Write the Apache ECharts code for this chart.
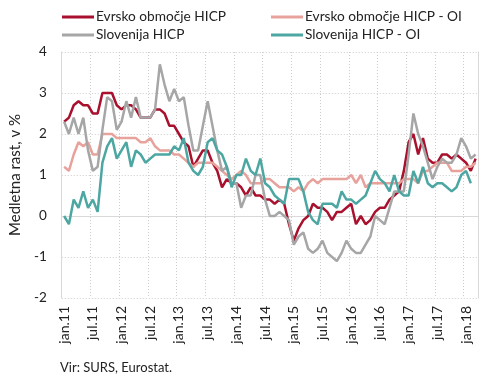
<!DOCTYPE html>
<html><head><meta charset="utf-8">
<script src="https://cdn.jsdelivr.net/npm/echarts@6/dist/echarts.min.js"></script>
<style>html,body{margin:0;padding:0;background:#fff}#c{width:490px;height:381px}</style>
</head><body><div id="c"></div>
<script>
const categories = [
 'jan.11','feb.11','mar.11','apr.11','maj.11','jun.11','jul.11','avg.11','sep.11','okt.11','nov.11','dec.11',
 'jan.12','feb.12','mar.12','apr.12','maj.12','jun.12','jul.12','avg.12','sep.12','okt.12','nov.12','dec.12',
 'jan.13','feb.13','mar.13','apr.13','maj.13','jun.13','jul.13','avg.13','sep.13','okt.13','nov.13','dec.13',
 'jan.14','feb.14','mar.14','apr.14','maj.14','jun.14','jul.14','avg.14','sep.14','okt.14','nov.14','dec.14',
 'jan.15','feb.15','mar.15','apr.15','maj.15','jun.15','jul.15','avg.15','sep.15','okt.15','nov.15','dec.15',
 'jan.16','feb.16','mar.16','apr.16','maj.16','jun.16','jul.16','avg.16','sep.16','okt.16','nov.16','dec.16',
 'jan.17','feb.17','mar.17','apr.17','maj.17','jun.17','jul.17','avg.17','sep.17','okt.17','nov.17','dec.17',
 'jan.18','feb.18','mar.18'];

const euroHicp = [
 2.3,2.4,2.7,2.8,2.7,2.7,2.5,2.5,3.0,3.0,3.0,2.7,
 2.6,2.7,2.7,2.6,2.4,2.4,2.4,2.6,2.6,2.5,2.2,2.2,
 2.0,1.8,1.7,1.2,1.4,1.6,1.6,1.3,1.1,0.7,0.9,0.8,
 0.8,0.7,0.5,0.7,0.5,0.5,0.4,0.4,0.3,0.4,0.3,-0.2,
 -0.6,-0.3,-0.1,0.0,0.3,0.2,0.2,0.1,-0.1,0.1,0.1,0.2,
 0.3,-0.2,0.0,-0.2,-0.1,0.1,0.2,0.2,0.4,0.5,0.6,1.1,
 1.8,2.0,1.5,1.9,1.4,1.3,1.3,1.5,1.5,1.4,1.5,1.4,
 1.3,1.1,1.4];

const euroOi = [
 1.2,1.1,1.5,1.8,1.7,1.8,1.5,1.5,2.0,2.0,2.0,1.9,
 1.9,1.9,1.9,1.9,1.8,1.8,1.9,1.7,1.6,1.6,1.6,1.5,
 1.5,1.4,1.3,1.2,1.3,1.3,1.3,1.3,1.2,1.1,1.0,0.9,
 1.0,1.1,1.0,0.8,0.8,0.8,0.9,0.9,0.8,0.7,0.7,0.7,
 0.6,0.7,0.6,0.8,0.9,0.8,0.9,0.9,0.9,0.9,0.9,0.9,
 1.0,0.8,1.0,0.7,0.8,0.8,0.8,0.8,0.8,0.8,0.8,0.9,
 0.9,0.9,0.8,1.1,1.1,1.2,1.3,1.3,1.3,1.1,1.1,1.1,
 1.2,1.2,1.3];

const sloHicp = [
 2.3,2.0,2.4,2.0,2.4,1.6,1.1,1.2,2.1,2.9,2.8,2.1,
 2.3,2.8,2.4,2.9,2.4,2.4,2.4,2.6,3.7,3.2,2.8,3.1,
 2.8,2.9,2.2,1.6,1.6,2.2,2.8,2.2,1.6,1.1,1.2,0.8,
 0.8,0.2,0.5,0.5,1.0,1.0,0.4,0.0,0.0,0.1,0.0,-0.1,
 -0.7,-0.5,-0.4,-0.8,-0.9,-0.8,-0.6,-0.9,-1.0,-1.1,-0.9,-0.6,
 -0.8,-0.9,-0.9,-0.7,-0.5,0.0,-0.1,-0.2,0.2,0.6,0.6,0.6,
 1.5,2.5,2.0,1.7,1.3,0.9,1.2,1.4,1.3,1.3,1.5,1.9,
 1.7,1.4,1.5];

const sloOi = [
 0.0,-0.2,0.4,0.2,0.6,0.2,0.4,0.1,1.3,1.7,1.9,1.4,
 1.6,1.8,1.2,1.6,1.5,1.3,1.4,1.5,1.5,1.5,1.5,1.7,
 1.6,1.9,1.3,1.1,1.0,1.2,1.8,1.9,1.6,1.5,1.2,0.7,
 1.0,1.0,1.4,1.1,1.0,1.4,0.8,0.7,0.5,0.4,0.3,0.9,
 0.9,0.9,0.6,0.1,-0.1,-0.2,0.3,0.3,0.3,0.2,0.6,0.4,
 0.4,0.3,0.4,0.5,0.8,1.1,0.9,0.8,0.6,1.0,0.6,0.5,
 0.5,1.1,0.8,1.2,0.8,0.7,0.8,0.8,0.7,0.6,0.7,1.0,
 1.1,0.8];

const seriesNames = ['Evrsko območje HICP','Evrsko območje HICP - OI','Slovenija HICP','Slovenija HICP - OI'];
const colors = ['#a8102d','#e8a29c','#a6a6a6','#4ca7a2'];
const yTicks = {min:-2, max:4, interval:1};

const FONT = 'Lato';
const chart = echarts.init(document.getElementById('c'), null, {renderer:'canvas'});
const dataSets = [euroHicp, euroOi, sloHicp, sloOi];

chart.setOption({
  animation:false,
  textStyle:{fontFamily:FONT},
  grid:{left:58, right:12, top:52, bottom:83},
  legend:[
    {data:[seriesNames[0],seriesNames[2]], orient:'vertical', left:57, top:5, icon:'rect',
     itemWidth:32, itemHeight:3, itemGap:4, selectedMode:false,
     textStyle:{fontFamily:FONT, fontSize:13.7, color:'#222', padding:[0,0,0,-3]}},
    {data:[seriesNames[1],seriesNames[3]], orient:'vertical', left:266, top:5, icon:'rect',
     itemWidth:32, itemHeight:3, itemGap:4, selectedMode:false,
     textStyle:{fontFamily:FONT, fontSize:13.7, color:'#222', padding:[0,0,0,-3]}}
  ],
  xAxis:{
    type:'category', data:categories, boundaryGap:true,
    axisLine:{show:true, lineStyle:{color:'#d9d9d9'}},
    axisTick:{show:false},
    axisLabel:{interval:5, rotate:90, margin:8, fontFamily:FONT, fontSize:14, color:'#222'},
    splitLine:{show:true, interval:5, lineStyle:{color:'#cccccc', type:[1,2]}}
  },
  yAxis:[{
    type:'value', min:yTicks.min, max:yTicks.max, interval:yTicks.interval,
    name:'Medletna rast, v %', nameLocation:'middle', nameGap:37, nameRotate:90,
    nameTextStyle:{fontFamily:FONT, fontSize:15, color:'#222'},
    axisLine:{show:true, lineStyle:{color:'#d9d9d9'}},
    axisTick:{show:false},
    axisLabel:{margin:15, fontFamily:FONT, fontSize:13.5, color:'#222'},
    splitLine:{show:true, lineStyle:{color:'#cccccc', type:[1,2]}}
  },{
    type:'value', position:'right', min:yTicks.min, max:yTicks.max, interval:yTicks.interval,
    axisLine:{show:true, lineStyle:{color:'#d9d9d9'}},
    axisTick:{show:false}, axisLabel:{show:false}, splitLine:{show:false}
  }],
  series: dataSets.map((d,k)=>({
    name:seriesNames[k], type:'line', data:d, showSymbol:false, symbol:'none',
    lineStyle:{width:2.5, color:colors[k]}, itemStyle:{color:colors[k]}, z:2+k
  })),
  graphic:[{type:'text', left:60, top:361, style:{text:'Vir: SURS, Eurostat.', font:'13px Lato', fill:'#222'}}]
});
</script></body></html>
